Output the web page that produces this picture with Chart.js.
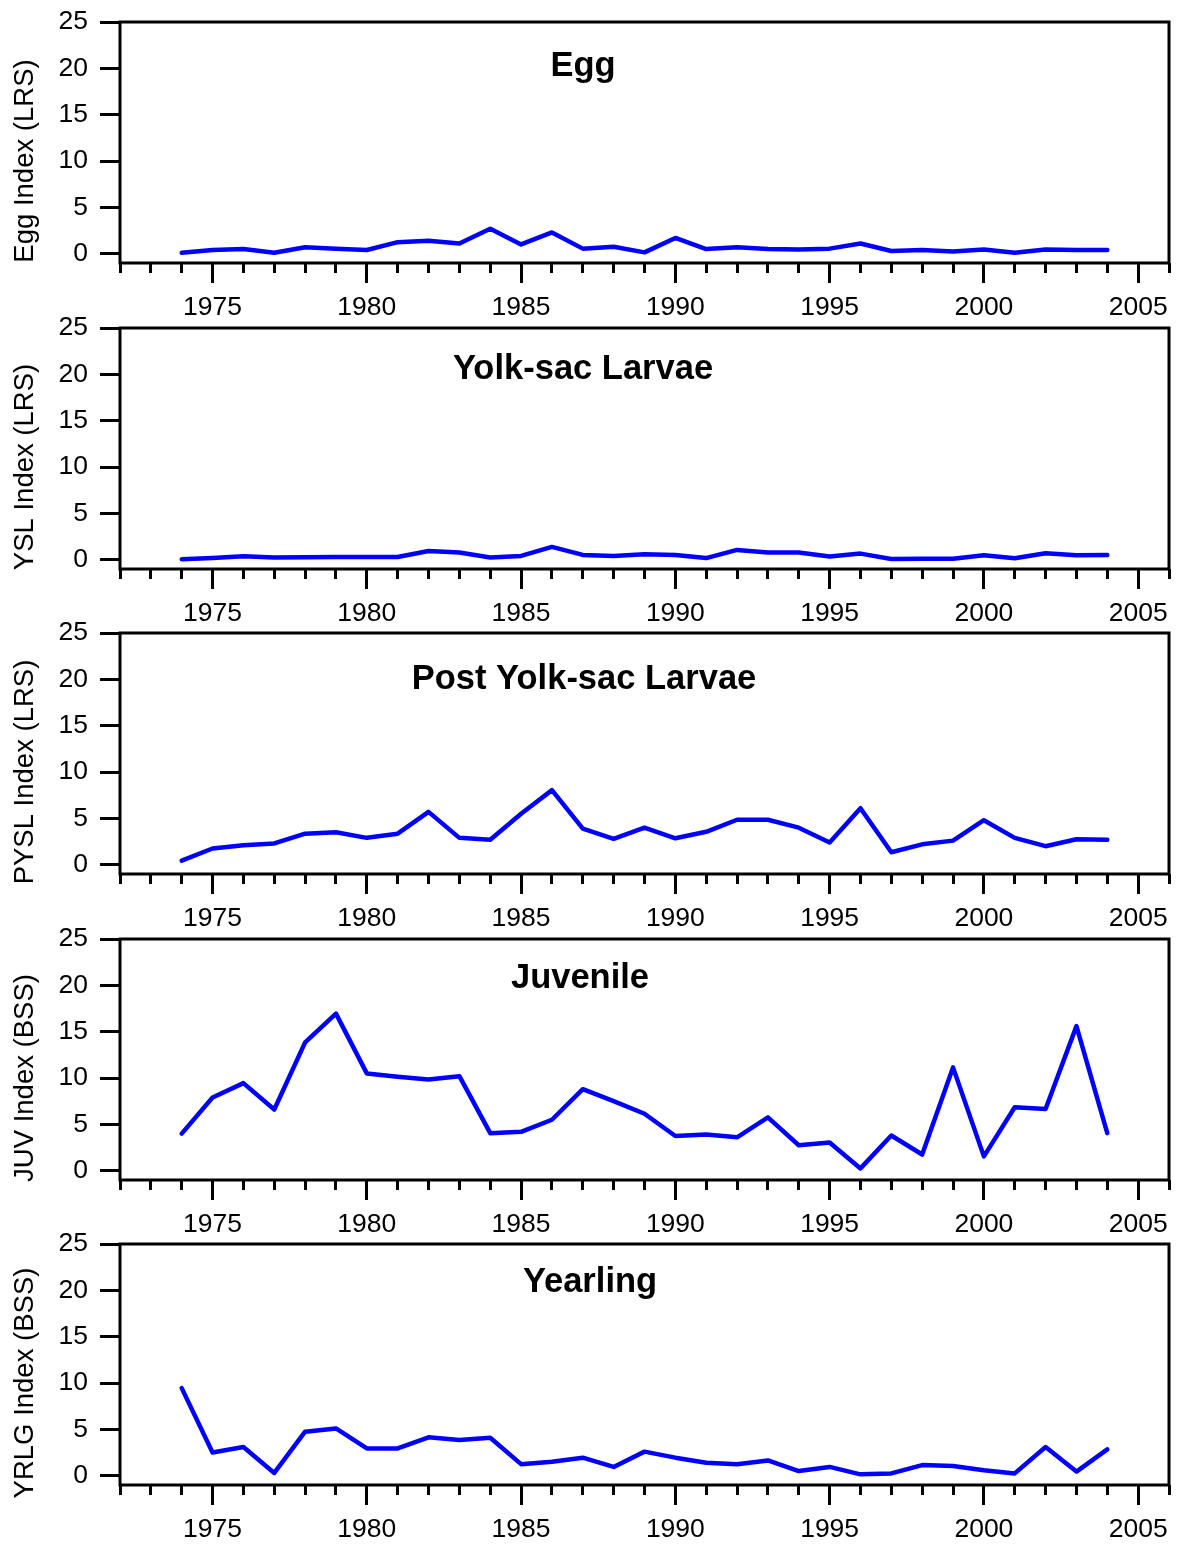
<!DOCTYPE html>
<html>
<head>
<meta charset="utf-8">
<script src="https://cdn.jsdelivr.net/npm/chart.js@4/dist/chart.umd.min.js"></script>
<style>
body { margin: 0; background: #fff; }
#wrap { position: relative; width: 1177px; height: 1548px; }
#wrap canvas { position: absolute; left: 0; }
</style>
</head>
<body>
<div id="wrap">
<canvas id="egg" width="1177" height="330" style="top:0px"></canvas>
<canvas id="ysl" width="1177" height="330" style="top:306px"></canvas>
<canvas id="pysl" width="1177" height="330" style="top:611px"></canvas>
<canvas id="juv" width="1177" height="330" style="top:917px"></canvas>
<canvas id="yrlg" width="1177" height="330" style="top:1222px"></canvas>
</div>
<script>
var years = [1974, 1975, 1976, 1977, 1978, 1979, 1980, 1981, 1982, 1983, 1984, 1985, 1986, 1987, 1988, 1989,
    1990, 1991, 1992, 1993, 1994, 1995, 1996, 1997, 1998, 1999, 2000, 2001, 2002, 2003, 2004];

var eggIndex = [0.1, 0.4, 0.5, 0.1, 0.7, 0.55, 0.4, 1.25, 1.4, 1.1, 2.7, 1.0, 2.3, 0.55, 0.75, 0.15,
    1.7, 0.5, 0.7, 0.5, 0.45, 0.55, 1.1, 0.3, 0.4, 0.25, 0.45, 0.1, 0.45, 0.4, 0.4];
var yslIndex = [0.05, 0.18, 0.38, 0.25, 0.27, 0.3, 0.3, 0.3, 0.95, 0.77, 0.25, 0.41, 1.38, 0.52, 0.41, 0.59,
    0.52, 0.18, 1.06, 0.77, 0.77, 0.36, 0.66, 0.08, 0.1, 0.1, 0.48, 0.15, 0.7, 0.48, 0.52];
var pyslIndex = [0.45, 1.75, 2.1, 2.3, 3.35, 3.5, 2.9, 3.35, 5.7, 2.9, 2.7, 5.5, 8.05, 3.9, 2.8, 4.0,
    2.85, 3.55, 4.85, 4.85, 4.0, 2.4, 6.1, 1.35, 2.2, 2.6, 4.8, 2.9, 2.0, 2.75, 2.7];
var juvIndex = [4.0, 7.9, 9.45, 6.6, 13.85, 16.95, 10.5, 10.15, 9.85, 10.2, 4.05, 4.2, 5.5, 8.8, 7.5, 6.15,
    3.75, 3.9, 3.6, 5.75, 2.75, 3.05, 0.25, 3.8, 1.75, 11.15, 1.55, 6.85, 6.65, 15.6, 4.05];
var yrlgIndex = [9.45, 2.5, 3.1, 0.3, 4.75, 5.1, 2.95, 2.95, 4.15, 3.85, 4.1, 1.25, 1.5, 1.95, 0.95, 2.6,
    1.95, 1.4, 1.25, 1.65, 0.5, 0.95, 0.15, 0.25, 1.15, 1.05, 0.6, 0.25, 3.1, 0.45, 2.85];

var yTicks = [0, 5, 10, 15, 20, 25];
var majorTicks = [1975, 1980, 1985, 1990, 1995, 2000, 2005];
var minorTicks = [1972, 1973, 1974, 1975, 1976, 1977, 1978, 1979, 1980, 1981, 1982, 1983, 1984, 1985, 1986, 1987,
    1988, 1989, 1990, 1991, 1992, 1993, 1994, 1995, 1996, 1997, 1998, 1999, 2000, 2001, 2002, 2003, 2004, 2005, 2006];

var panels = [
    { id: "egg", title: "Egg", yLabel: "Egg Index (LRS)", values: eggIndex, titleX: 583, titleBase: 54 },
    { id: "ysl", title: "Yolk-sac Larvae", yLabel: "YSL Index (LRS)", values: yslIndex, titleX: 583, titleBase: 51 },
    { id: "pysl", title: "Post Yolk-sac Larvae", yLabel: "PYSL Index (LRS)", values: pyslIndex, titleX: 584, titleBase: 56 },
    { id: "juv", title: "Juvenile", yLabel: "JUV Index (BSS)", values: juvIndex, titleX: 580, titleBase: 49 },
    { id: "yrlg", title: "Yearling", yLabel: "YRLG Index (BSS)", values: yrlgIndex, titleX: 590, titleBase: 48 }
];

var font = '"Liberation Sans", Arial, sans-serif';

// box round the plot, panel title and rotated y label
var framePlugin = {
    id: 'frame',
    afterDraw: function (chart, args, opts) {
        var a = chart.chartArea, ctx = chart.ctx;
        ctx.save();
        ctx.strokeStyle = '#000';
        ctx.lineWidth = 3;
        ctx.strokeRect(a.left, a.top, a.right - a.left, a.bottom - a.top);
        ctx.fillStyle = '#000';
        ctx.font = 'bold 34.5px ' + font;
        ctx.textAlign = 'center';
        ctx.textBaseline = 'alphabetic';
        ctx.fillText(opts.title, opts.titleX, a.top + opts.titleBase);
        ctx.translate(25, a.top + 139);
        ctx.rotate(-Math.PI / 2);
        ctx.font = '27.5px ' + font;
        ctx.textBaseline = 'middle';
        ctx.fillText(opts.yLabel, 0, 0);
        ctx.restore();
    }
};

function noPad(s) {
    s.paddingTop = 0;
    s.paddingBottom = 0;
    s.paddingLeft = 0;
    s.paddingRight = 0;
}

panels.forEach(function (p) {
    new Chart(document.getElementById(p.id), {
        type: 'line',
        data: {
            datasets: [{
                data: p.values.map(function (v, i) { return { x: years[i], y: v }; }),
                borderColor: "#0000ff",
                borderWidth: 4.5,
                borderJoinStyle: 'round',
                borderCapStyle: 'round',
                pointRadius: 0,
                tension: 0,
                fill: false,
                xAxisID: 'x',
                yAxisID: 'y'
            }]
        },
        plugins: [framePlugin],
        options: {
            responsive: false,
            animation: false,
            layout: { padding: { top: 22, right: 8, left: 0, bottom: 0 } },
            scales: {
                xMinor: {
                    type: 'linear',
                    position: 'bottom',
                    min: 1972,
                    max: 2006,
                    afterBuildTicks: function (s) { s.ticks = minorTicks.map(function (v) { return { value: v }; }); },
                    afterFit: function (s) { s.height = 0; noPad(s); },
                    border: { display: false },
                    grid: { drawOnChartArea: false, tickLength: 10, lineWidth: 3, color: '#000' },
                    ticks: { display: false }
                },
                x: {
                    type: 'linear',
                    position: 'bottom',
                    min: 1972,
                    max: 2006,
                    afterBuildTicks: function (s) { s.ticks = majorTicks.map(function (v) { return { value: v }; }); },
                    afterFit: function (s) { s.height = 67; noPad(s); },
                    border: { display: false },
                    grid: { drawOnChartArea: false, tickLength: 20, lineWidth: 3, color: '#000' },
                    ticks: {
                        autoSkip: false,
                        maxRotation: 0,
                        padding: 9,
                        color: '#000',
                        font: { family: font, size: 26.5 },
                        callback: function (v) { return String(v); }
                    }
                },
                y: {
                    type: 'linear',
                    min: -1,
                    max: 25,
                    afterBuildTicks: function (s) { s.ticks = yTicks.map(function (v) { return { value: v }; }); },
                    afterFit: function (s) { s.width = 120; noPad(s); },
                    border: { display: false },
                    grid: { drawOnChartArea: false, tickLength: 20, lineWidth: 3, color: '#000' },
                    ticks: {
                        autoSkip: false,
                        padding: 12,
                        color: '#000',
                        font: { family: font, size: 26.5 }
                    }
                }
            },
            plugins: {
                legend: { display: false },
                tooltip: { enabled: false },
                frame: { title: p.title, yLabel: p.yLabel, titleX: p.titleX, titleBase: p.titleBase }
            }
        }
    });
});
</script>
</body>
</html>
